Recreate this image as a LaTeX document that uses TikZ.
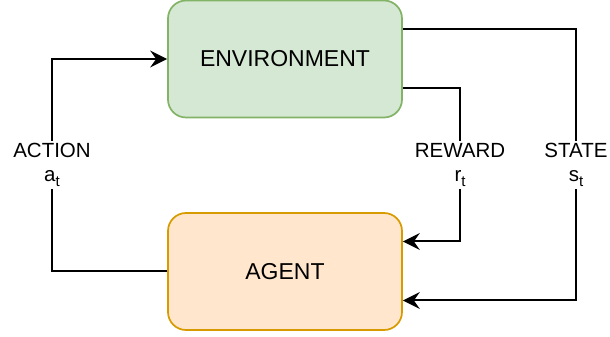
\documentclass[tikz,border=0pt]{standalone}
\usepackage{xcolor}
\usepackage{fontspec}
\setmainfont{Liberation Sans}
\usetikzlibrary{arrows.meta,positioning,calc}

\definecolor{envfill}{HTML}{D5E8D4}
\definecolor{envline}{HTML}{82B366}
\definecolor{agentfill}{HTML}{FFE6CC}
\definecolor{agentline}{HTML}{D79B00}

% 下标
\newcommand{\lowsub}[1]{\raisebox{-5pt}{\fontsize{15}{15}\selectfont #1}}

\begin{document}
\begin{tikzpicture}[x=1pt, y=1pt,
    box/.style={rectangle, rounded corners=18pt, line width=1.7pt,
        minimum width=234pt, minimum height=117pt,
        font=\fontsize{23}{28}\selectfont},
    flow/.style={line width=2pt, -{Stealth[length=17pt,width=17pt,inset=6pt]}},
    lbl/.style={fill=white, align=center, inner sep=2pt,
        font=\fontsize{20.5}{24}\selectfont}]
\useasboundingbox (0,0) rectangle (610,337);

% 两个方框
\node[box, draw=envline, fill=envfill] (env) at (285, 278) {ENVIRONMENT};
\node[box, draw=agentline, fill=agentfill] (agent) at (285, 65.5) {AGENT};

% 拐点
\coordinate (actcorner) at (52, 65.5);
\coordinate (rewcorner) at (460, 249);
\coordinate (stacorner) at (576, 308);

% 动作: agent -> environment
\draw[flow] (agent.west) -- (actcorner) |- (env.west);

% 奖励: environment -> agent
\draw[flow] ([yshift=-29pt]env.east) -- (rewcorner) |- ([yshift=30pt]agent.east);

% 状态: environment -> agent
\draw[flow] ([yshift=30pt]env.east) -- (stacorner) |- ([yshift=-29pt]agent.east);

% 标签
\node[lbl] (action) at (52, 172) {ACTION\\a\lowsub{t}};
\node[lbl] (reward) at (460, 172) {REWARD\\r\lowsub{t}};
\node[lbl] (state) at (576, 172) {STATE\\s\lowsub{t}};
\end{tikzpicture}
\end{document}
